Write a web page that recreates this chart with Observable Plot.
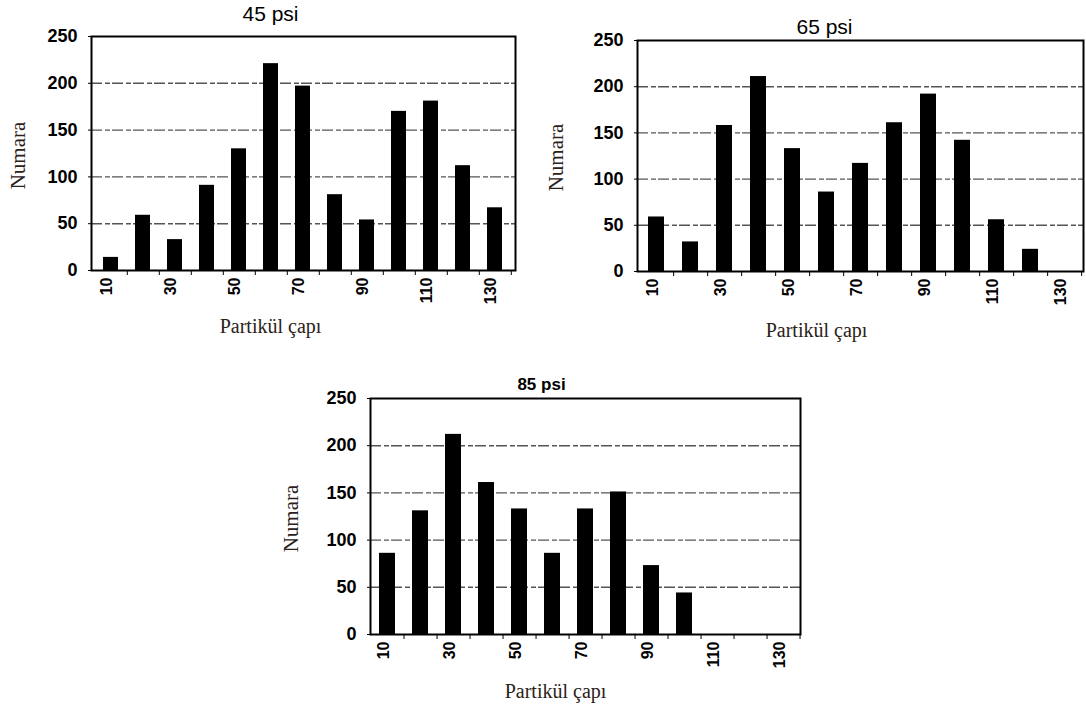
<!DOCTYPE html>
<html>
<head>
<meta charset="utf-8">
<script src="https://cdn.jsdelivr.net/npm/d3@7"></script>
<script src="https://cdn.jsdelivr.net/npm/@observablehq/plot@0.6"></script>
<style>
  body { margin: 0; background: #fff; }
  #wrap { position: relative; width: 1086px; height: 707px; overflow: hidden; background: #fff; }
  .panel { position: absolute; }
  .panel svg { overflow: visible; }
</style>
</head>
<body>
<div id="wrap"></div>
<script>
// ---- data ----
const diameters = [10, 20, 30, 40, 50, 60, 70, 80, 90, 100, 110, 120, 130];
const xTickLabels = [10, 30, 50, 70, 90, 110, 130];
const yTicks = [0, 50, 100, 150, 200, 250];
const gridValues = [50, 100, 150, 200];
const psi45 = [14, 59, 33, 91, 130, 221, 197, 81, 54, 170, 181, 112, 67];
const psi65 = [59, 32, 158, 211, 133, 86, 117, 161, 192, 142, 56, 24, 0];
const psi85 = [86, 131, 212, 161, 133, 86, 133, 151, 73, 44, 0, 0, 0];
const panelTitles = ["45 psi", "65 psi", "85 psi"];
const xTitle = "Partikül çapı";
const yTitle = "Numara";

// ---- layout (pixels) ----
const panels = [
  { values: psi45, title: panelTitles[0], left: 0, top: 0, width: 530, height: 340,
    mL: 91, mR: 15, mT: 36, mB: 70,
    title_xy: [270, 14], tSize: 21, tWeight: "normal",
    ytitle_xy: [18, 155], xtitle_xy: [270, 326] },
  { values: psi65, title: panelTitles[1], left: 530, top: 0, width: 556, height: 345,
    mL: 107, mR: 3, mT: 40, mB: 74,
    title_xy: [824, 27], tSize: 21, tWeight: "normal",
    ytitle_xy: [556, 157], xtitle_xy: [816, 330] },
  { values: psi85, title: panelTitles[2], left: 270, top: 360, width: 540, height: 347,
    mL: 100, mR: 10, mT: 38, mB: 73,
    title_xy: [541, 384], tSize: 17, tWeight: "bold",
    ytitle_xy: [291, 518], xtitle_xy: [555, 691] }
];

const sans = "'Liberation Sans', Arial, Helvetica, sans-serif";
const serif = "'Liberation Serif', 'Times New Roman', Times, serif";
const wrap = document.getElementById("wrap");

for (const p of panels) {
  const data = diameters.map((d, i) => ({ d, v: p.values[i] }));
  const W = p.width - p.mL - p.mR;
  const step = W / diameters.length;
  const rel = ([ax, ay]) => ({ dx: ax - p.left - p.mL, dy: ay - p.top - p.mT });
  const t = rel(p.title_xy), yt = rel(p.ytitle_xy), xt = rel(p.xtitle_xy);

  const chart = Plot.plot({
    width: p.width,
    height: p.height,
    marginLeft: p.mL, marginRight: p.mR, marginTop: p.mT, marginBottom: p.mB,
    style: { background: "transparent", fontFamily: sans, color: "#000", overflow: "visible" },
    x: { type: "band", domain: diameters, paddingInner: 0.53, paddingOuter: 0.265, axis: null, label: null },
    y: { domain: [0, 250], axis: null, label: null },
    marks: [
      Plot.ruleY(gridValues, { stroke: "#555", strokeWidth: 1.4, strokeDasharray: "11,3,5,2" }),
      Plot.barY(data, { x: "d", y: "v", fill: "#000" }),
      Plot.frame({ stroke: "#000", strokeWidth: 2 }),
      Plot.axisY({ ticks: yTicks, label: null, tickSize: 3, tickPadding: 11, fontSize: 18, fontWeight: "bold", tickFormat: d => String(d) }),
      Plot.axisX({ ticks: xTickLabels, label: null, tickRotate: -90, tickSize: 0, tickPadding: 7, dx: -4, fontSize: 16, fontWeight: "bold", tickFormat: d => String(d) }),
      Plot.ruleX(diameters, { x: d => d, y1: 0, y2: 0, dx: step / 2, insetBottom: -5, stroke: "#000", strokeWidth: 1 }),
      Plot.text([p.title], { frameAnchor: "top-left", dx: t.dx, dy: t.dy, fontSize: p.tSize, fontWeight: p.tWeight, fontFamily: sans, textAnchor: "middle", lineAnchor: "middle", fill: "#000" }),
      Plot.text([yTitle], { frameAnchor: "top-left", dx: yt.dx, dy: yt.dy, rotate: -90, fontSize: 21, fontFamily: serif, textAnchor: "middle", lineAnchor: "middle", fill: "#2b2118" }),
      Plot.text([xTitle], { frameAnchor: "top-left", dx: xt.dx, dy: xt.dy, fontSize: 20, fontFamily: serif, textAnchor: "middle", lineAnchor: "middle", fill: "#2b2118" })
    ]
  });
  const div = document.createElement("div");
  div.className = "panel";
  div.style.left = p.left + "px";
  div.style.top = p.top + "px";
  div.appendChild(chart);
  wrap.appendChild(div);
}
</script>
</body>
</html>
